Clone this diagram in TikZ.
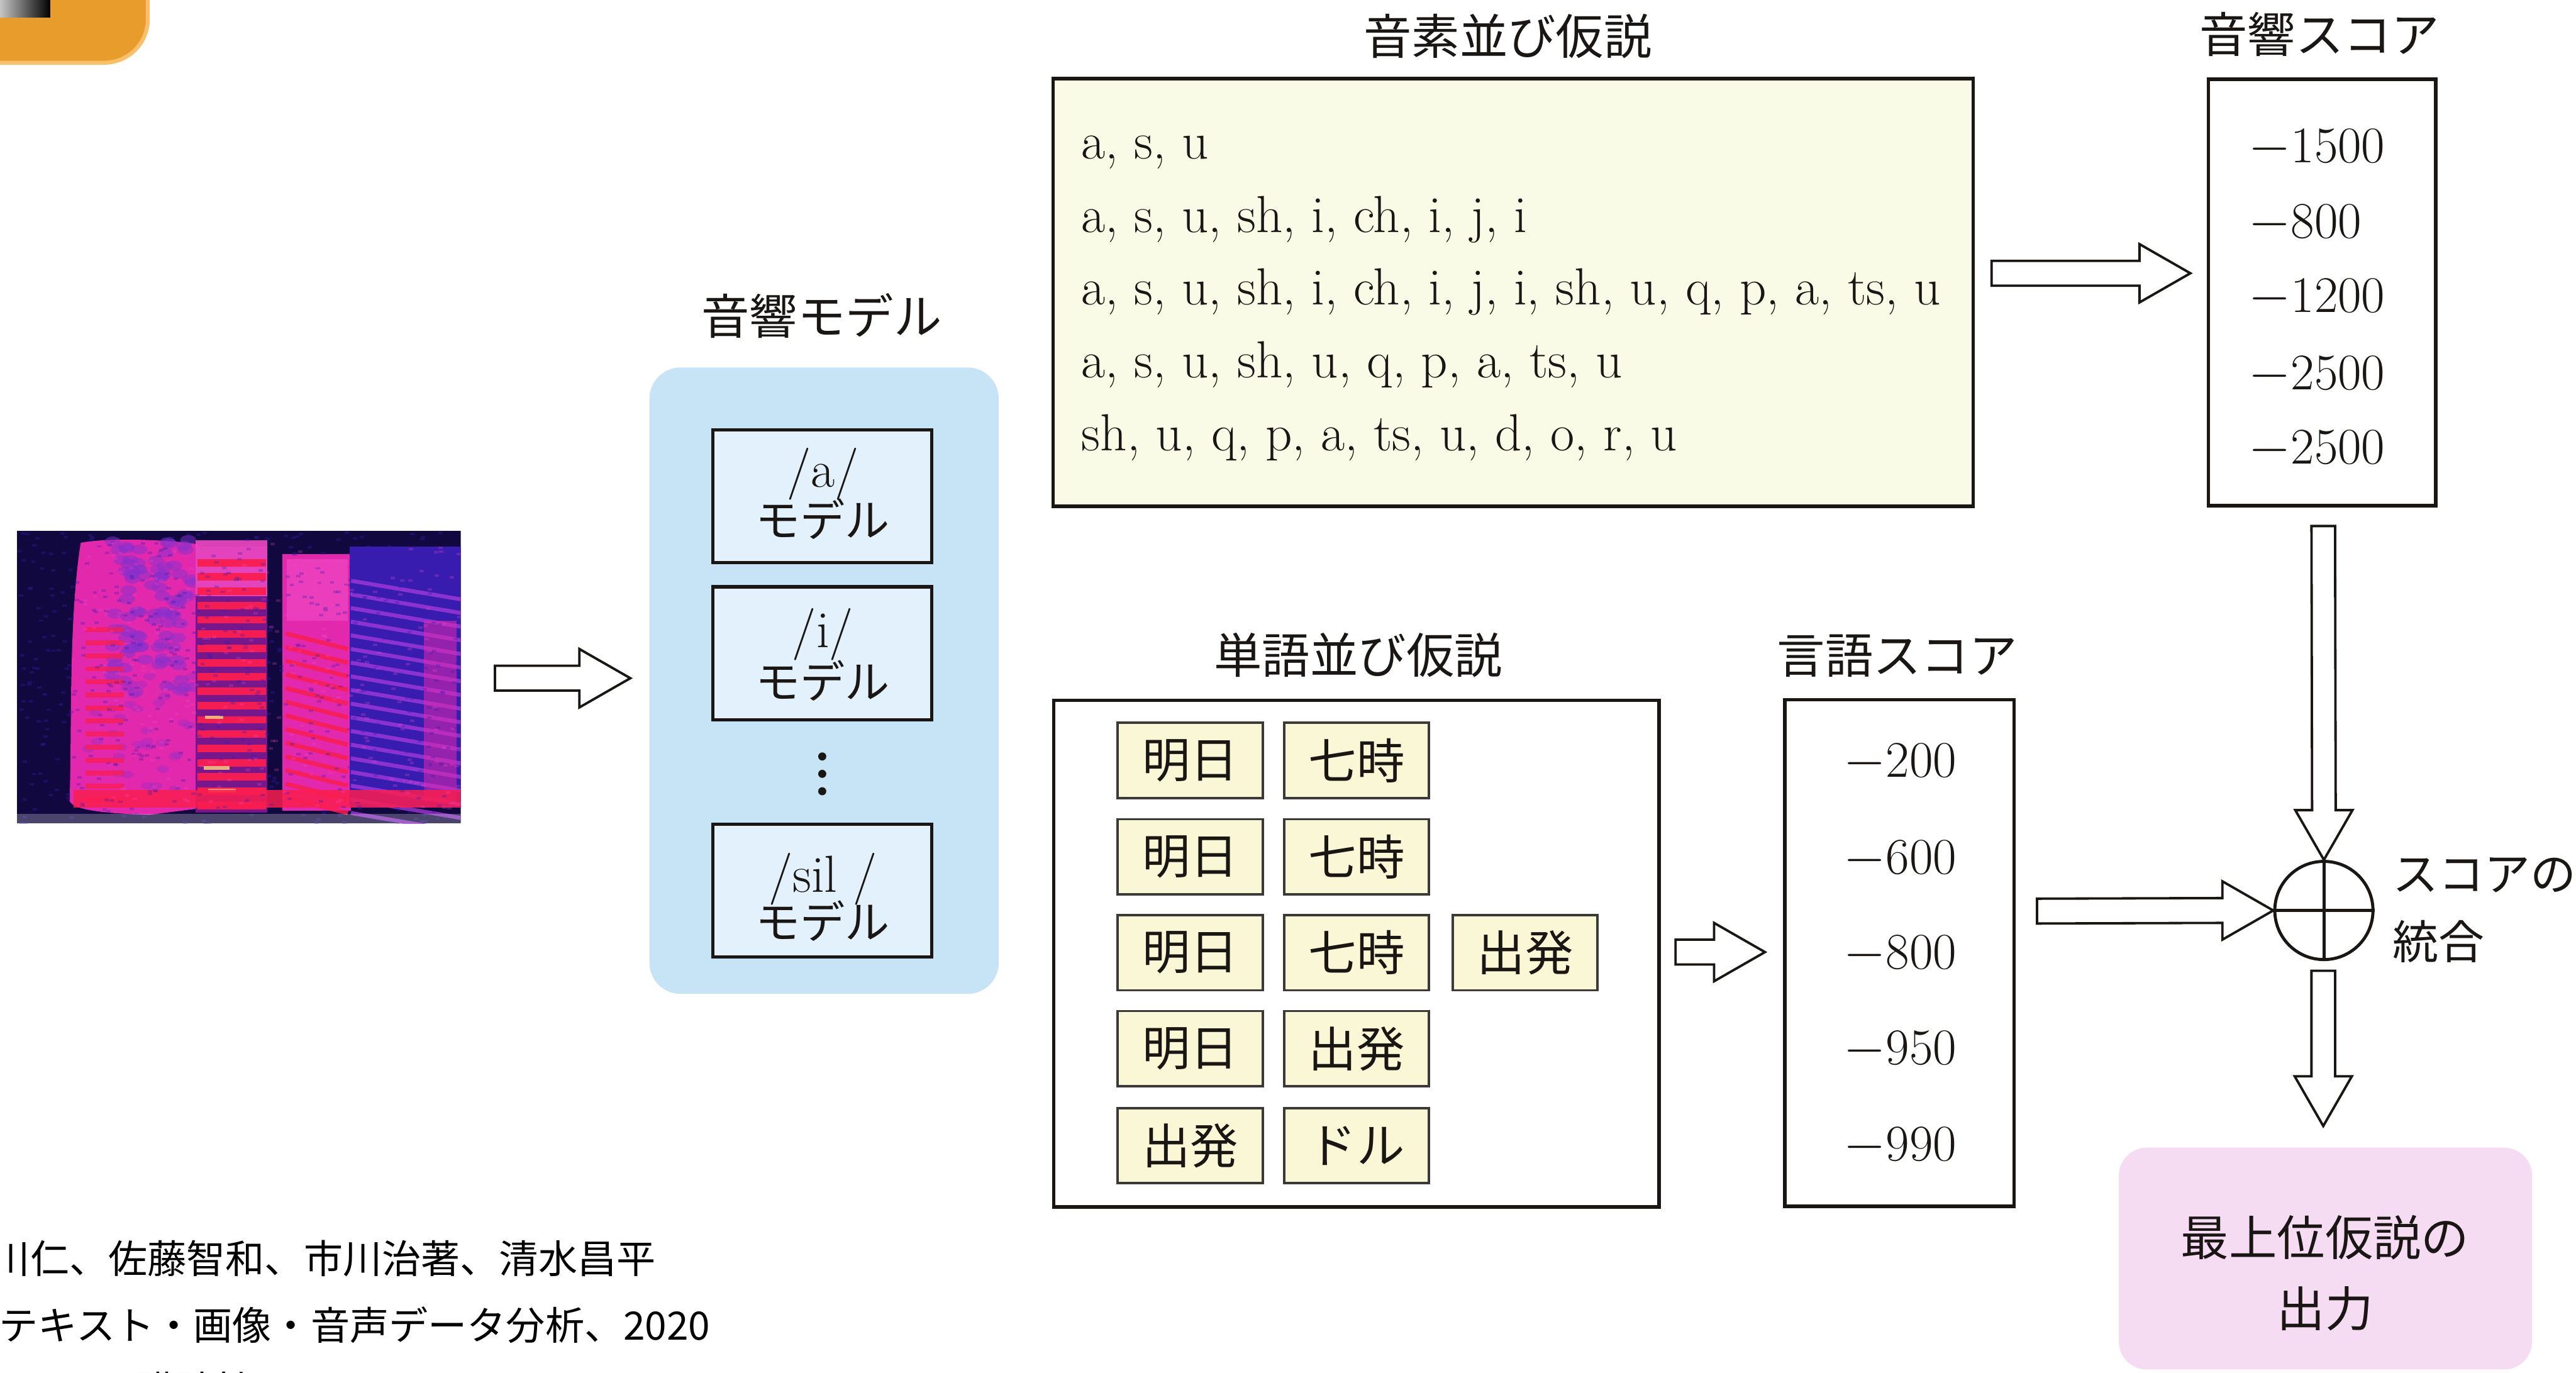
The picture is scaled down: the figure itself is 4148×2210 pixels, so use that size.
\documentclass[tikz,border=0pt]{standalone}
\usepackage{fontspec}
\newfontfamily\jp{Noto Sans CJK JP}
\usetikzlibrary{calc}

\definecolor{inkc}{RGB}{25,22,20}
\definecolor{hypfill}{RGB}{250,251,230}
\definecolor{tilefill}{RGB}{250,247,214}
\definecolor{amblue}{RGB}{198,228,246}
\definecolor{amfill}{RGB}{226,241,251}
\definecolor{outpink}{RGB}{246,220,242}
\definecolor{tabor}{RGB}{232,156,44}
\definecolor{taborlt}{RGB}{250,192,105}
\definecolor{specbg}{RGB}{16,8,62}
\definecolor{specmag}{RGB}{226,40,172}
\definecolor{specpink}{RGB}{240,72,196}
\definecolor{specred}{RGB}{250,30,80}
\definecolor{specpurp}{RGB}{132,48,206}
\definecolor{specblue}{RGB}{56,28,176}
\definecolor{specviol}{RGB}{168,58,220}
\definecolor{specplum}{RGB}{120,22,140}
\definecolor{specyel}{RGB}{255,214,130}

\newcommand\phonfont{\fontsize{23.9pt}{28pt}\selectfont}
\newcommand\numfont{\fontsize{23.5pt}{28pt}\selectfont}
\newcommand\labfont{\jp\fontsize{22pt}{26pt}\selectfont}
\newcommand\tilefont{\jp\fontsize{22pt}{26pt}\selectfont}
\newcommand\modfont{\fontsize{23.9pt}{28pt}\selectfont}
\newcommand\modjpfont{\jp\fontsize{20.5pt}{24pt}\selectfont}
\newcommand\citefont{\jp\fontsize{17.9pt}{22pt}\selectfont}
\newcommand\sumfont{\jp\fontsize{21pt}{25pt}\selectfont}

% hollow block arrows between two named points (body 40, head 94 wide)
\newcommand{\fatright}[2]{\draw[fat] ($(#1)+(0,-20)$) -- ($(#2)+(-82,-20)$) -- ($(#2)+(-82,-47)$) -- (#2) -- ($(#2)+(-82,47)$) -- ($(#2)+(-82,20)$) -- ($(#1)+(0,20)$) -- cycle;}
\newcommand{\fatdown}[2]{\draw[fat] ($(#1)+(-19,0)$) -- ($(#2)+(-19,-80)$) -- ($(#2)+(-46,-80)$) -- (#2) -- ($(#2)+(46,-80)$) -- ($(#2)+(19,-80)$) -- ($(#1)+(19,0)$) -- cycle;}

\begin{document}
\begin{tikzpicture}[x=0.01cm,y=-0.01cm,
  bigbox/.style={draw=inkc, line width=1.6pt, inner sep=0pt},
  modelbox/.style={draw=inkc, line width=1.5pt, fill=amfill, minimum width=3.52cm, minimum height=2.14cm, inner sep=0pt},
  tile/.style={draw=inkc!85, line width=1.1pt, fill=tilefill, minimum width=2.33cm, minimum height=1.21cm, inner sep=0pt, font=\tilefont, text=inkc},
  lab/.style={inner sep=0pt, font=\labfont, text=inkc},
  phon/.style={anchor=base west, inner sep=0pt, font=\phonfont, text=inkc},
  score/.style={anchor=base west, inner sep=0pt, font=\numfont, text=inkc},
  cite/.style={anchor=west, inner sep=0pt, font=\citefont, text=black},
  fat/.style={draw=inkc, fill=white, line width=1.1pt, line join=miter},
]
\useasboundingbox (0,0) rectangle (4148,2210);
\clip (0,0) rectangle (4148,2210);
\fill[white] (0,0) rectangle (4148,2210);

% corner tab
\fill[tabor, draw=taborlt, line width=1.8pt, rounded corners=0.7cm] (-100,-100) rectangle (238,101);
\shade[left color=gray!35, right color=black] (-5,-5) rectangle (81,28);

% ---------- spectrogram ----------
\begin{scope}
\clip (27,855) rectangle (742,1326);
\fill[specbg] (27,855) rectangle (742,1326);
% low-frequency column on the left
\fill[specmag] (130,874) .. controls (170,866) and (260,868) .. (318,876)
  -- (318,1302) -- (240,1312) .. controls (180,1310) and (120,1306) .. (112,1290)
  .. controls (116,1180) and (110,1000) .. (130,874) -- cycle;
\pgfmathsetseed{11}
\foreach \i in {1,...,90}{
  \pgfmathsetmacro\sx{180+rnd*135}
  \pgfmathsetmacro\sy{868+rnd*250}
  \fill[specpurp, opacity=0.5] (\sx,\sy) ellipse (0.13cm and 0.08cm);
}
\foreach \i in {1,...,35}{
  \pgfmathsetmacro\sx{140+rnd*170}
  \pgfmathsetmacro\sy{1080+rnd*200}
  \fill[specpurp, opacity=0.3] (\sx,\sy) ellipse (0.1cm and 0.06cm);
}
\foreach \k in {0,...,13}{
  \fill[specred, opacity=0.75] (138,1010+\k*21) rectangle (200,1018+\k*21);
}
% striated column
\fill[specplum] (315,880) rectangle (430,1308);
\fill[specpink, opacity=0.9] (315,870) rectangle (430,960);
\foreach \k in {0,...,17}{
  \fill[specred, opacity=0.95] (318,900+\k*23) rectangle (428,912+\k*23);
}
\fill[specyel, opacity=0.8] (330,1152) rectangle (360,1158);
\fill[specyel, opacity=0.8] (328,1233) rectangle (370,1240);
\fill[specyel, opacity=0.6] (335,1270) rectangle (380,1276);
% middle column
\fill[specmag] (455,892) rectangle (565,1305);
\fill[specpink, opacity=0.7] (462,900) rectangle (560,1000);
\foreach \k in {0,...,12}{
  \draw[specred, line width=2pt, opacity=0.85] (460,1020+\k*22) -- (560,1045+\k*22);
}
% high-frequency column on the right
\fill[specblue] (563,880) rectangle (742,1300);
\foreach \k in {0,...,17}{
  \draw[specviol, line width=1.8pt, opacity=0.75] (565,935+\k*22) -- (742,965+\k*22);
}
\fill[specmag, opacity=0.55] (683,1000) rectangle (735,1290);
% bottom energy
\fill[specred, opacity=0.85] (118,1272) rectangle (742,1300);
\foreach \i in {1,...,600}{
  \pgfmathsetmacro\sx{27+rnd*715}
  \pgfmathsetmacro\sy{855+rnd*471}
  \fill[specblue, opacity=0.3] (\sx,\sy) rectangle ++(7,4);
}
\foreach \i in {1,...,250}{
  \pgfmathsetmacro\sx{120+rnd*620}
  \pgfmathsetmacro\sy{870+rnd*430}
  \fill[specpink, opacity=0.25] (\sx,\sy) rectangle ++(7,4);
}
\fill[white, opacity=0.25] (27,1310) rectangle (742,1326);
\end{scope}
\node[inner sep=0, minimum width=7.15cm, minimum height=4.71cm] (spec) at (384.5,1090.5) {};

% ---------- acoustic models ----------
\node[lab] (amlab) at (1323,508) {音響モデル};
\node[fill=amblue, rounded corners=0.5cm, minimum width=5.62cm, minimum height=10.08cm, inner sep=0pt] (am) at (1327,1096) {};
\node[modelbox] (ma) at (1324,799) {};
\node[modelbox] (mi) at (1324,1052) {};
\node[modelbox] (ms) at (1324,1434) {};
\node[inner sep=0, font=\modfont, anchor=base, text=inkc] (mat) at (1325,784) {/a/};
\node[inner sep=0, font=\modjpfont, text=inkc] (maj) at (1325,836) {モデル};
\node[inner sep=0, font=\modfont, anchor=base, text=inkc] (mit) at (1325,1043) {/i/};
\node[inner sep=0, font=\modjpfont, text=inkc] (mij) at (1325,1096) {モデル};
\node[inner sep=0, font=\modfont, anchor=base, text=inkc] (mst) at (1325,1436) {/sil /};
\node[inner sep=0, font=\modjpfont, text=inkc] (msj) at (1325,1483) {モデル};
\foreach \yy in {1218,1246,1274} \fill[inkc] (1324,\yy) circle (0.065cm);

% ---------- phoneme hypotheses ----------
\node[lab] (phlab) at (2428,58) {音素並び仮説};
\node[bigbox, fill=hypfill, minimum width=14.81cm, minimum height=6.88cm] (ph) at (2436.5,471) {};
\node[phon] (p1) at (1741,256) {a, s, u};
\node[phon] (p2) at (1741,374) {a, s, u, sh, i, ch, i, j, i};
\node[phon] (p3) at (1741,491) {a, s, u, sh, i, ch, i, j, i, sh, u, q, p, a, ts, u};
\node[phon] (p4) at (1741,608) {a, s, u, sh, u, q, p, a, ts, u};
\node[phon] (p5) at (1741,726) {sh, u, q, p, a, ts, u, d, o, r, u};

% ---------- acoustic scores ----------
\node[lab] (aslab) at (3735,55) {音響スコア};
\node[bigbox, fill=white, minimum width=3.66cm, minimum height=6.86cm] (as) at (3739,471) {};
\node[score] (s1) at (3620,262) {$-$1500};
\node[score] (s2) at (3620,383) {$-$800};
\node[score] (s3) at (3620,503) {$-$1200};
\node[score] (s4) at (3620,627) {$-$2500};
\node[score] (s5) at (3620,747) {$-$2500};

% ---------- word hypotheses ----------
\node[lab] (wdlab) at (2187,1055) {単語並び仮説};
\node[bigbox, fill=white, minimum width=9.74cm, minimum height=8.15cm] (wd) at (2184,1535.5) {};
\node[tile] (w11) at (1916.5,1224.5) {明日};
\node[tile] (w12) at (2184.5,1224.5) {七時};
\node[tile] (w21) at (1916.5,1379.5) {明日};
\node[tile] (w22) at (2184.5,1379.5) {七時};
\node[tile] (w31) at (1916.5,1534) {明日};
\node[tile] (w32) at (2184.5,1534) {七時};
\node[tile] (w33) at (2456,1534) {出発};
\node[tile] (w41) at (1916.5,1688.5) {明日};
\node[tile] (w42) at (2184.5,1688.5) {出発};
\node[tile] (w51) at (1916.5,1844.5) {出発};
\node[tile] (w52) at (2184.5,1844.5) {ドル};

% ---------- language scores ----------
\node[lab] (lslab) at (3055,1056) {言語スコア};
\node[bigbox, fill=white, minimum width=3.69cm, minimum height=8.15cm] (ls) at (3058.5,1534.5) {};
\node[score] (l1) at (2968,1251) {$-$200};
\node[score] (l2) at (2968,1407) {$-$600};
\node[score] (l3) at (2968,1560) {$-$800};
\node[score] (l4) at (2968,1714) {$-$950};
\node[score] (l5) at (2968,1869) {$-$990};

% ---------- score combination and output ----------
\node[draw=inkc, line width=1.4pt, circle, minimum size=1.58cm, inner sep=0pt] (sum) at (3742,1466) {};
\draw[inkc, line width=1.4pt] (sum.north) -- (sum.south) (sum.west) -- (sum.east);
\node[inner sep=0, font=\sumfont, anchor=west, text=inkc] (sumt1) at (3852,1409) {スコアの};
\node[inner sep=0, font=\sumfont, anchor=west, text=inkc] (sumt2) at (3852,1516) {統合};
\node[fill=outpink, rounded corners=0.45cm, minimum width=6.65cm, minimum height=3.57cm, inner sep=0pt] (out) at (3744.5,2026.5) {};
\node[lab] (out1) at (3744,1993) {最上位仮説の};
\node[lab] (out2) at (3744,2107) {出力};

% ---------- block arrows ----------
\coordinate (a1s) at (797,1092);  \coordinate (a1e) at (1015,1092);
\coordinate (a2s) at (3207,440);  \coordinate (a2e) at (3527,440);
\coordinate (a3s) at (2698,1533); \coordinate (a3e) at (2842,1533);
\coordinate (a4s) at (3280,1467); \coordinate (a4e) at (sum.west);
\coordinate (a5s) at (3741,847);  \coordinate (a5e) at (sum.north);
\coordinate (a6s) at (3741,1563); \coordinate (a6e) at (3741,1813);
\fatright{a1s}{a1e}
\fatright{a2s}{a2e}
\fatright{a3s}{a3e}
\fatright{a4s}{a4e}
\fatdown{a5s}{a5e}
\fatdown{a6s}{a6e}

% ---------- reference lines ----------
\node[cite] (c1) at (-15,2026) {川仁、佐藤智和、市川治著、清水昌平};
\node[cite] (c2) at (-2,2133) {テキスト・画像・音声データ分析、2020};
\node[cite] (c3) at (-40,2238) {月21日、講談社、ISBN978-4-06};
\end{tikzpicture}
\end{document}
